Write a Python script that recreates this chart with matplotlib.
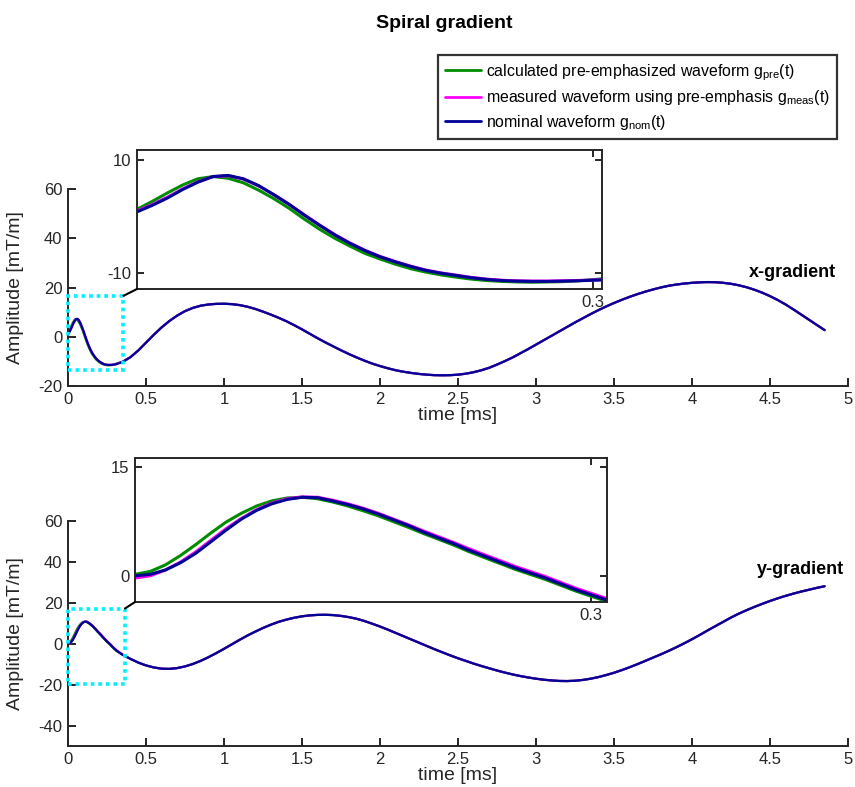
import numpy as np
import matplotlib
matplotlib.use("Agg")
import matplotlib.pyplot as plt
from matplotlib.patches import Rectangle, ConnectionPatch
from matplotlib.ticker import FormatStrFormatter

plt.rcParams['font.family'] = ['Liberation Sans', 'DejaVu Sans']
plt.rcParams['mathtext.default'] = 'regular'
plt.rcParams['axes.unicode_minus'] = False

# ---------------------------------------------------------------- data
# early part of the readout (ms), shown magnified in the insets
t_zoom_x = [0.00, 0.01, 0.02, 0.03, 0.04, 0.05, 0.06, 0.07, 0.08, 0.09, 0.10,
            0.11, 0.12, 0.13, 0.14, 0.15, 0.16, 0.17, 0.18, 0.19, 0.20, 0.21,
            0.22, 0.23, 0.24, 0.25, 0.26, 0.27, 0.28, 0.29, 0.30, 0.306]
gx_pre_zoom = [1.3, 2.7, 4.2, 5.6, 6.7, 7.1, 6.8, 6.0, 4.7, 3.2, 1.5, -0.4,
               -2.2, -3.8, -5.2, -6.5, -7.5, -8.4, -9.2, -9.8, -10.3, -10.7,
               -11.05, -11.3, -11.45, -11.55, -11.6, -11.55, -11.5, -11.35,
               -11.15, -11.0]
gx_meas_zoom = [1.0, 2.15, 3.45, 4.9, 6.15, 7.1, 7.25, 6.65, 5.45, 3.9, 2.2,
                0.35, -1.45, -3.15, -4.65, -5.95, -7.05, -7.95, -8.75, -9.45,
                -9.95, -10.35, -10.75, -11.05, -11.25, -11.35, -11.4, -11.4,
                -11.35, -11.3, -11.2, -11.15]
gx_nom_zoom = [0.85, 2.0, 3.3, 4.8, 6.1, 7.1, 7.3, 6.7, 5.5, 3.9, 2.2, 0.3,
               -1.5, -3.2, -4.7, -6.0, -7.1, -8.0, -8.8, -9.5, -10.0, -10.4,
               -10.8, -11.1, -11.3, -11.4, -11.45, -11.45, -11.4, -11.35,
               -11.25, -11.2]

t_zoom_y = [0.00, 0.01, 0.02, 0.03, 0.04, 0.05, 0.06, 0.07, 0.08, 0.09, 0.10,
            0.11, 0.12, 0.13, 0.14, 0.15, 0.16, 0.17, 0.18, 0.19, 0.20, 0.21,
            0.22, 0.23, 0.24, 0.25, 0.26, 0.27, 0.28, 0.29, 0.30, 0.31]
gy_pre_zoom = [0.2, 0.6, 1.5, 2.8, 4.3, 5.9, 7.4, 8.6, 9.6, 10.3, 10.7, 10.8,
               10.6, 10.15, 9.6, 8.95, 8.25, 7.45, 6.65, 5.8, 5.0, 4.2, 3.3,
               2.5, 1.7, 0.9, 0.2, -0.5, -1.3, -2.1, -2.8, -3.5]
gy_meas_zoom = [-0.3, 0.0, 0.8, 1.9, 3.3, 4.9, 6.5, 7.9, 9.1, 10.0, 10.6,
                10.85, 10.8, 10.4, 9.9, 9.3, 8.6, 7.8, 7.0, 6.15, 5.35, 4.55,
                3.7, 2.9, 2.1, 1.3, 0.6, -0.1, -0.9, -1.7, -2.4, -3.1]
gy_nom_zoom = [0.0, 0.2, 0.8, 1.8, 3.1, 4.7, 6.3, 7.8, 9.0, 9.9, 10.5, 10.8,
               10.75, 10.3, 9.8, 9.2, 8.5, 7.7, 6.9, 6.0, 5.2, 4.4, 3.5, 2.7,
               1.9, 1.1, 0.4, -0.3, -1.1, -1.9, -2.6, -3.3]

# remainder of the readout, where the three waveforms coincide
t_tail = list(np.round(np.arange(0.35, 4.851, 0.05), 2))
gx_tail = [-10.2, -8.3, -5.6, -2.4, 0.8, 3.8, 6.4, 8.6, 10.4, 11.7, 12.6,
           13.1, 13.35, 13.4, 13.25, 12.85, 12.2, 11.3, 10.2, 9.0, 7.7, 6.3,
           4.7, 3.0, 1.2, -0.6, -2.3, -3.9, -5.5, -7.0, -8.4, -9.7, -10.9,
           -11.9, -12.8, -13.6, -14.2, -14.7, -15.1, -15.4, -15.6, -15.65,
           -15.6, -15.4, -15.0, -14.4, -13.6, -12.6, -11.3, -9.9, -8.4, -6.7,
           -5.0, -3.2, -1.4, 0.4, 2.2, 4.0, 5.8, 7.5, 9.2, 10.8, 12.3, 13.7,
           15.0, 16.2, 17.3, 18.3, 19.2, 20.0, 20.7, 21.2, 21.6, 21.9, 22.1,
           22.2, 22.15, 21.9, 21.5, 20.9, 20.1, 19.1, 17.9, 16.5, 14.9, 13.1,
           11.1, 9.0, 6.9, 4.8, 2.7]
gy_tail = [-5.4, -7.4, -9.2, -10.6, -11.6, -12.2, -12.3, -11.9, -11.1, -9.9,
           -8.4, -6.6, -4.6, -2.5, -0.3, 1.9, 4.0, 5.9, 7.7, 9.3, 10.7, 11.8,
           12.7, 13.4, 13.85, 14.1, 14.15, 14.0, 13.6, 13.0, 12.2, 11.1, 9.8,
           8.4, 6.9, 5.3, 3.7, 2.1, 0.5, -1.1, -2.7, -4.2, -5.7, -7.1, -8.4,
           -9.7, -10.9, -12.0, -13.1, -14.1, -15.0, -15.8, -16.5, -17.1,
           -17.6, -17.95, -18.2, -18.25, -18.1, -17.7, -17.1, -16.3, -15.3,
           -14.2, -12.9, -11.5, -10.0, -8.4, -6.8, -5.2, -3.5, -1.7, 0.2, 2.2,
           4.3, 6.5, 8.6, 10.7, 12.8, 14.7, 16.4, 18.0, 19.5, 20.9, 22.2,
           23.4, 24.5, 25.5, 26.4, 27.3, 28.1]

series_labels = ['calculated pre-emphasized waveform g$_{pre}$(t)',
                 'measured waveform using pre-emphasis g$_{meas}$(t)',
                 'nominal waveform g$_{nom}$(t)']
series_colors = ['#008c00', '#ff00ff', '#000096']

x_ticks = [0, 0.5, 1, 1.5, 2, 2.5, 3, 3.5, 4, 4.5, 5]

# ---------------------------------------------------------------- layout
AX = '#262626'
W, H = 855, 787
fig = plt.figure(figsize=(W / 100, H / 100), dpi=100)


def box(left, top, right, bottom):
    return [left / W, 1 - bottom / H, (right - left) / W, (bottom - top) / H]


ax_x = fig.add_axes(box(68, 189, 848, 386))
ax_y = fig.add_axes(box(68, 521, 848, 746))
in_x = fig.add_axes(box(137, 150, 602, 289))
in_y = fig.add_axes(box(135, 458, 607, 602))


def style_main(ax, ylim, yticks):
    ax.set_xlim(0, 5)
    ax.set_ylim(*ylim)
    ax.set_xticks(x_ticks)
    ax.set_yticks(yticks)
    ax.xaxis.set_major_formatter(FormatStrFormatter('%g'))
    for s in ('top', 'right'):
        ax.spines[s].set_visible(False)
    for s in ('left', 'bottom'):
        ax.spines[s].set_linewidth(1.4)
        ax.spines[s].set_color(AX)
    ax.tick_params(direction='in', length=6, width=1.4, colors=AX,
                   labelsize=12, pad=4)
    ax.set_xlabel('time [ms]', fontsize=14, color=AX, labelpad=0)
    ax.set_ylabel('Amplitude [mT/m]', fontsize=14, color=AX)
    ax.yaxis.set_label_coords(-0.057, 0.5)


def style_inset(ax, xlim, ylim, yticks):
    ax.set_xlim(*xlim)
    ax.set_ylim(*ylim)
    ax.set_xticks([0.3])
    ax.set_xticklabels(['0.3'])
    ax.set_yticks(yticks)
    for s in ax.spines.values():
        s.set_linewidth(1.4)
        s.set_color(AX)
    ax.tick_params(direction='in', length=5, width=1.4, colors=AX,
                   labelsize=12, pad=4, top=True, right=True)


panels = [
    (ax_x, in_x, t_zoom_x, [gx_pre_zoom, gx_meas_zoom, gx_nom_zoom], gx_tail,
     (-20, 60), [-20, 0, 20, 40, 60], (0, 0.306), (-12.8, 11.8), [-10, 10],
     (0.355, -13.7, 16.6)),
    (ax_y, in_y, t_zoom_y, [gy_pre_zoom, gy_meas_zoom, gy_nom_zoom], gy_tail,
     (-50, 60), [-40, -20, 0, 20, 40, 60], (0, 0.3105), (-3.6, 16.2), [0, 15],
     (0.365, -19.5, 17.2)),
]

for ax, ins, tz, zooms, tail, ylim, yt, ixl, iyl, iyt, (rx, ry0, ry1) in panels:
    t_full = list(tz) + t_tail
    for g, c, lab in zip(zooms, series_colors, series_labels):
        ax.plot(t_full, list(g) + tail, color=c, lw=1.6, label=lab,
                solid_capstyle='round')
        ins.plot(tz, g, color=c, lw=2.2, solid_capstyle='round')
    style_main(ax, ylim, yt)
    style_inset(ins, ixl, iyl, iyt)
    ax.add_patch(Rectangle((0, ry0), rx, ry1 - ry0, fill=False,
                           edgecolor='#00f0ff', lw=2.6,
                           linestyle=(0, (1, 1.1)), clip_on=False, zorder=3))
    con = ConnectionPatch(xyA=(rx, ry1), coordsA=ax.transData,
                          xyB=(0, 0), coordsB=ins.transAxes,
                          color='black', lw=1.5)
    fig.add_artist(con)

leg = ax_x.legend(loc='upper left', bbox_to_anchor=(438 / W, 1 - 55 / H),
                  bbox_transform=fig.transFigure, fontsize=11.4,
                  frameon=True, fancybox=False, handlelength=2.25,
                  handletextpad=0.33, borderpad=0.45, labelspacing=0.35,
                  borderaxespad=0)
leg.get_frame().set_edgecolor('black')
leg.get_frame().set_linewidth(1.6)
for line in leg.get_lines():
    line.set_linewidth(2.0)

fig.text(444 / W, 1 - 23 / H, 'Spiral gradient', ha='center', va='center',
         fontsize=14, fontweight='bold')
fig.text(792 / W, 1 - 272 / H, 'x-gradient', ha='center', va='center',
         fontsize=13, fontweight='bold')
fig.text(800 / W, 1 - 569 / H, 'y-gradient', ha='center', va='center',
         fontsize=13, fontweight='bold')

fig.savefig('out.png', dpi=100)
